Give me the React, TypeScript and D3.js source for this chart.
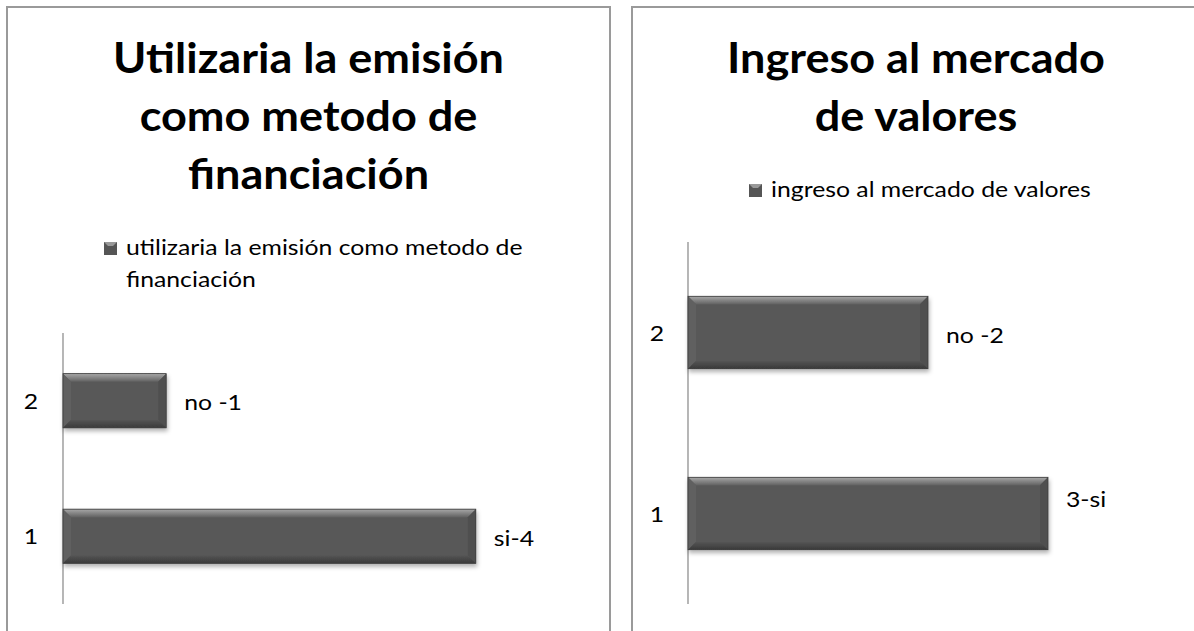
import React from "react";
import * as d3 from "d3";

// ---- data ----
const leftTitle = ["Utilizaria la emisión", "como metodo de", "financiación"];
const leftLegend = ["utilizaria la emisión como metodo de", "financiación"];
const leftCategories = ["2", "1"];
const leftValues = [1, 4];
const leftLabels = ["no -1", "si-4"];

const rightTitle = ["Ingreso al mercado", "de valores"];
const rightLegend = ["ingreso al mercado de valores"];
const rightCategories = ["2", "1"];
const rightValues = [2, 3];
const rightLabels = ["no -2", "3-si"];

const FONT = "Lato, 'Open Sans', sans-serif";
const BODY_SIZE = 21;
const BODY_SX = 1.18;
const TITLE_SIZE = 42.5;
const TITLE_SX = 1.06;

type TProps = {
  x: number;
  y: number;
  sx: number;
  size: number;
  bold?: boolean;
  anchor?: "start" | "middle" | "end";
  children: React.ReactNode;
};

function T({ x, y, sx, size, bold, anchor = "start", children }: TProps) {
  return (
    <text
      transform={`translate(${x},${y}) scale(${sx},1)`}
      textAnchor={anchor}
      fontFamily={FONT}
      fontWeight={bold ? 700 : 400}
      fontSize={size}
      fill="#000"
    >
      {children}
    </text>
  );
}

type PanelProps = {
  id: string;
  box: [number, number, number, number];
  title: string[];
  titleY: number;
  legend: string[];
  legendX: number;
  legendY: number;
  legendLineH: number;
  categories: string[];
  values: number[];
  labels: string[];
  labelDy: number[];
  xDomain: [number, number];
  xRange: [number, number];
  yRange: [number, number];
  catX: number;
};

function Bar({ x0, x1, y0, y1, id }: { x0: number; x1: number; y0: number; y1: number; id: string }) {
  const b = Math.min(8, (x1 - x0) / 2, (y1 - y0) / 2);
  return (
    <g filter={`url(#shadow-${id})`}>
      <rect x={x0} y={y0} width={x1 - x0} height={y1 - y0} fill="#595959" />
      <polygon points={`${x0},${y0} ${x1},${y0} ${x1 - b},${y0 + b} ${x0 + b},${y0 + b}`} fill={`url(#top-${id})`} />
      <polygon points={`${x0},${y0} ${x0 + b},${y0 + b} ${x0 + b},${y1 - b} ${x0},${y1}`} fill="#606060" />
      <polygon points={`${x1},${y0} ${x1},${y1} ${x1 - b},${y1 - b} ${x1 - b},${y0 + b}`} fill="#4f4f4f" />
      <polygon points={`${x0},${y1} ${x0 + b},${y1 - b} ${x1 - b},${y1 - b} ${x1},${y1}`} fill={`url(#bot-${id})`} />
      <rect x={x0} y={y0} width={x1 - x0} height={y1 - y0} fill="none" stroke="#3d3d3d" strokeWidth={0.8} />
    </g>
  );
}

function Panel(p: PanelProps) {
  const x = d3.scaleLinear().domain(p.xDomain).range(p.xRange);
  const y = d3.scaleBand<string>().domain(p.categories).range(p.yRange).paddingInner(0.6).paddingOuter(0.3);
  const [bx, by, bw, bh] = p.box;
  const cx = bx + bw / 2;
  return (
    <g>
      <defs>
        <linearGradient id={`top-${p.id}`} x1="0" y1="0" x2="0" y2="1">
          <stop offset="0" stopColor="#a8a8a8" />
          <stop offset="1" stopColor="#626262" />
        </linearGradient>
        <linearGradient id={`bot-${p.id}`} x1="0" y1="0" x2="0" y2="1">
          <stop offset="0" stopColor="#555555" />
          <stop offset="1" stopColor="#3a3a3a" />
        </linearGradient>
        <filter id={`shadow-${p.id}`} x="-10%" y="-30%" width="130%" height="170%">
          <feDropShadow dx="1" dy="3" stdDeviation="2" floodColor="#000" floodOpacity="0.3" />
        </filter>
      </defs>
      <rect x={bx} y={by} width={bw} height={bh} fill="#fff" stroke="#9a9a9a" strokeWidth={2} />
      {p.title.map((t, i) => (
        <T key={i} x={cx} y={p.titleY + i * 58} sx={TITLE_SX} size={TITLE_SIZE} bold anchor="middle">
          {t}
        </T>
      ))}
      <rect x={p.legendX} y={p.legendY - 13} width={13} height={13} fill="#555" />
      <polygon
        points={`${p.legendX},${p.legendY - 13} ${p.legendX + 13},${p.legendY - 13} ${p.legendX + 9},${p.legendY - 9} ${p.legendX + 4},${p.legendY - 9}`}
        fill="#999"
      />
      {p.legend.map((t, i) => (
        <T key={i} x={p.legendX + 22} y={p.legendY + i * p.legendLineH} sx={BODY_SX} size={BODY_SIZE}>
          {t}
        </T>
      ))}
      <line x1={p.xRange[0]} x2={p.xRange[0]} y1={p.yRange[0]} y2={p.yRange[1]} stroke="#868686" strokeWidth={1.2} />
      {p.categories.map((c, i) => {
        const y0 = y(c)!;
        const y1 = y0 + y.bandwidth();
        const xe = x(p.values[i]);
        const mid = y0 + y.bandwidth() / 2;
        return (
          <g key={c}>
            <Bar id={p.id} x0={x(0)} x1={xe} y0={y0} y1={y1} />
            <T x={p.catX} y={mid + 8} sx={BODY_SX} size={BODY_SIZE} anchor="middle">
              {c}
            </T>
            <T x={xe + 18} y={mid + 8 + p.labelDy[i]} sx={BODY_SX} size={BODY_SIZE}>
              {p.labels[i]}
            </T>
          </g>
        );
      })}
    </g>
  );
}

export default function App() {
  return (
    <svg width={1194} height={631} style={{ position: "absolute", left: 0, top: 0 }}>
      <rect width={1194} height={631} fill="#fff" />
      <Panel
        id="l"
        box={[7, 7, 603, 640]}
        title={leftTitle}
        titleY={73}
        legend={leftLegend}
        legendX={104}
        legendY={255}
        legendLineH={32}
        categories={leftCategories}
        values={leftValues}
        labels={leftLabels}
        labelDy={[1, 2]}
        xDomain={[0, 5]}
        xRange={[63, 579]}
        yRange={[333, 604]}
        catX={31}
      />
      <Panel
        id="r"
        box={[632, 7, 568, 640]}
        title={rightTitle}
        titleY={73}
        legend={rightLegend}
        legendX={749}
        legendY={197}
        legendLineH={32}
        categories={rightCategories}
        values={rightValues}
        labels={rightLabels}
        labelDy={[2, -15]}
        xDomain={[0, 4]}
        xRange={[688, 1168]}
        yRange={[242, 604]}
        catX={657}
      />
    </svg>
  );
}
